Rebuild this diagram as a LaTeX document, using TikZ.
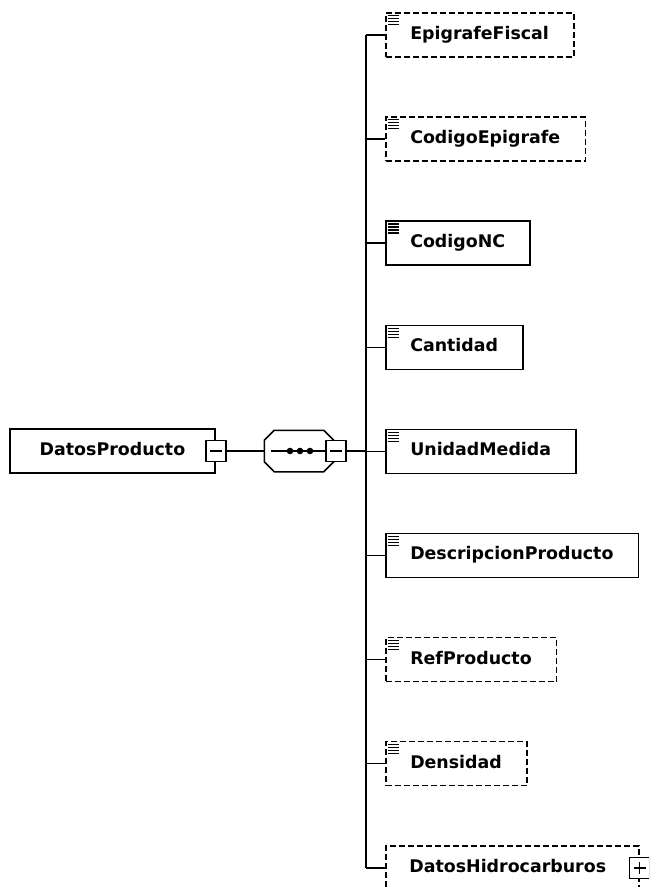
\documentclass[tikz,border=0pt]{standalone}
\usepackage{fontspec}
\newfontfamily\schemafont{DejaVu Sans}
\usetikzlibrary{positioning}

\begin{document}
\begin{tikzpicture}[x=1pt, y=-1pt, line width=1.5pt,
    box/.style={draw, fill=white, minimum height=44pt, inner xsep=0pt,
      text height=12.8pt, text depth=4pt,
      font=\schemafont\bfseries\fontsize{17.4}{20}\selectfont},
    elem/.style={box, anchor=west},
    optional/.style={elem, dash pattern=on 6pt off 3pt},
    toggle/.style={draw, fill=white, minimum width=20pt, minimum height=21pt,
      inner sep=0pt, solid}]
  \clip (0,0) rectangle (649,887);

  % parent element
  \node[box, minimum width=205pt] (producto) at (112.5,451) {DatosProducto};
  \node[toggle] (pminus) at (producto.east) {};
  \draw ([xshift=-6pt]pminus.center) -- ([xshift=6pt]pminus.center);

  % sequence compositor
  \node[minimum width=68pt, minimum height=40pt, inner sep=0pt] (seq) at (299,451) {};
  \draw ([xshift=10pt]seq.north west) -- ([xshift=-10pt]seq.north east)
    -- ([yshift=-10pt]seq.north east) -- ([yshift=10pt]seq.south east)
    -- ([xshift=-10pt]seq.south east) -- ([xshift=10pt]seq.south west)
    -- ([yshift=10pt]seq.south west) -- ([yshift=-10pt]seq.north west) -- cycle;
  \draw ([xshift=7pt]seq.west) -- (seq.east);
  \foreach \dx in {-9pt,1pt,11pt}
    \fill ([xshift=\dx]seq.center) circle (3.3pt);
  \node[toggle] (seqminus) at (336,451) {};
  \draw ([xshift=-6pt]seqminus.center) -- ([xshift=6pt]seqminus.center);

  % child elements
  \foreach \name/\label/\kind [count=\i from 0] in
    {epigrafe/EpigrafeFiscal/optional, codigoepi/CodigoEpigrafe/optional,
     codigonc/CodigoNC/elem, cantidad/Cantidad/elem,
     unidad/UnidadMedida/elem, descripcion/DescripcionProducto/elem,
     refprod/RefProducto/optional, densidad/Densidad/optional}
  {
    \node[\kind] (\name) at (385,35+104.1*\i) {\hspace*{24.5pt}\label\hspace*{25pt}};
    \foreach \dy in {3.5pt,6.5pt,9.5pt,12.5pt}
      \draw[solid, line width=1.1pt] ([shift={(3pt,-\dy)}]\name.north west) -- ++(11pt,0pt);
  }
  \node[optional, minimum width=253pt] (hidro) at (385,868) {DatosHidrocarburos\hspace*{9pt}};
  \node[toggle] (hplus) at (hidro.east) {};
  \draw ([xshift=-6pt]hplus.center) -- ([xshift=6pt]hplus.center);
  \draw ([yshift=-6pt]hplus.center) -- ([yshift=6pt]hplus.center);

  % connectors
  \coordinate (bus) at (366,451);
  \draw (pminus.east) -- (seq.west);
  \draw (seqminus.east) -- (bus);
  \draw (epigrafe.west -| bus) -- (hidro.west -| bus);
  \foreach \name in {epigrafe,codigoepi,codigonc,cantidad,unidad,descripcion,refprod,densidad,hidro}
    \draw (\name.west -| bus) -- (\name.west);
\end{tikzpicture}
\end{document}
